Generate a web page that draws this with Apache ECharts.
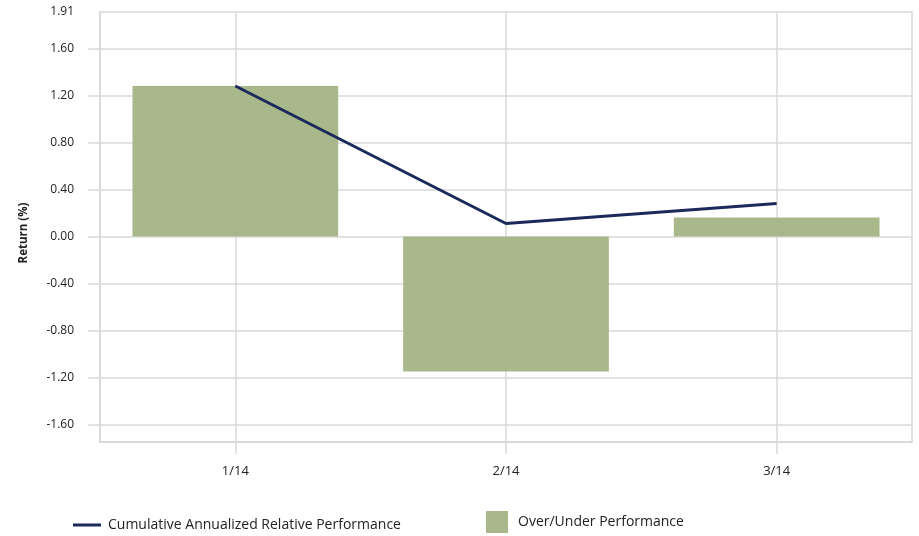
<!DOCTYPE html>
<html><head><meta charset="utf-8">
<script src="https://cdn.jsdelivr.net/npm/echarts@6/dist/echarts.min.js"></script>
<style>html,body{margin:0;padding:0;background:#fff}#c{width:919px;height:536px}</style>
</head><body><div id="c"></div>
<script>
const categories = ['1/14', '2/14', '3/14'];
const overUnder = [1.28, -1.15, 0.16];
const cumulative = [1.28, 0.11, 0.28];
const yLabels = [-1.6, -1.2, -0.8, -0.4, 0, 0.4, 0.8, 1.2, 1.6, 1.91];
const yTicks = [-1.6, -1.2, -0.8, -0.4, 0, 0.4, 0.8, 1.2, 1.6];
const yMin = -1.75, yMax = 1.91;
const nameLine = 'Cumulative Annualized Relative Performance';
const nameBar = 'Over/Under Performance';

const FONT = 'Open Sans';
const gridColor = '#d9d9d9';
const chart = echarts.init(document.getElementById('c'));
chart.setOption({
  animation: false,
  textStyle: { fontFamily: FONT },
  grid: { left: 100, right: 7, top: 12, bottom: 94, show: true, borderColor: gridColor, borderWidth: 1.5 },
  legend: [
    { data: [nameLine], left: 68, top: 513, icon: 'rect', itemWidth: 28, itemHeight: 3,
      textStyle: { fontFamily: FONT, fontSize: 14, color: '#222', padding: [2,0,0,2] } },
    { data: [nameBar], left: 481, top: 506, icon: 'rect', itemWidth: 22, itemHeight: 22,
      textStyle: { fontFamily: FONT, fontSize: 14, color: '#222', padding: [8,0,0,5] } }
  ],
  xAxis: {
    type: 'category', data: categories, boundaryGap: true,
    axisLine: { onZero: false, lineStyle: { color: gridColor, width: 1.5 } },
    axisTick: { show: true, alignWithLabel: true, length: 12, lineStyle: { color: gridColor, width: 1.5 } },
    splitLine: { show: false },
    axisLabel: { color: '#222', fontSize: 13, margin: 23, fontFamily: FONT }
  },
  yAxis: {
    type: 'value', min: yMin, max: yMax,
    name: 'Return (%)', nameLocation: 'middle', nameGap: 70, nameRotate: 90,
    nameTextStyle: { fontWeight: 'bold', fontSize: 11.5, color: '#222', fontFamily: FONT, padding: [0, 12, 0, 0] },
    axisLine: { show: true, lineStyle: { color: gridColor, width: 1.5 } },
    axisTick: { show: true, length: 12, customValues: yTicks, lineStyle: { color: gridColor, width: 1.5 } },
    axisLabel: { customValues: yLabels, margin: 26, color: '#222', fontSize: 12, fontFamily: FONT,
      formatter: v => v.toFixed(2) },
    splitLine: { show: true, lineStyle: { color: gridColor, width: 1.5 } }
  },
  series: [
    { name: nameBar, type: 'bar', data: overUnder, barWidth: '76%', itemStyle: { color: '#a8b88a' },
      markLine: { silent: true, symbol: 'none', label: { show: false }, z: 1,
        lineStyle: { color: gridColor, width: 1.5, type: 'solid' },
        data: categories.map(c => ({ xAxis: c })) }, z: 2 },
    { name: nameLine, type: 'line', data: cumulative, symbol: 'none', showSymbol: false,
      lineStyle: { color: '#1b2a5b', width: 3 }, itemStyle: { color: '#1b2a5b' }, z: 3 }
  ]
});
</script></body></html>
